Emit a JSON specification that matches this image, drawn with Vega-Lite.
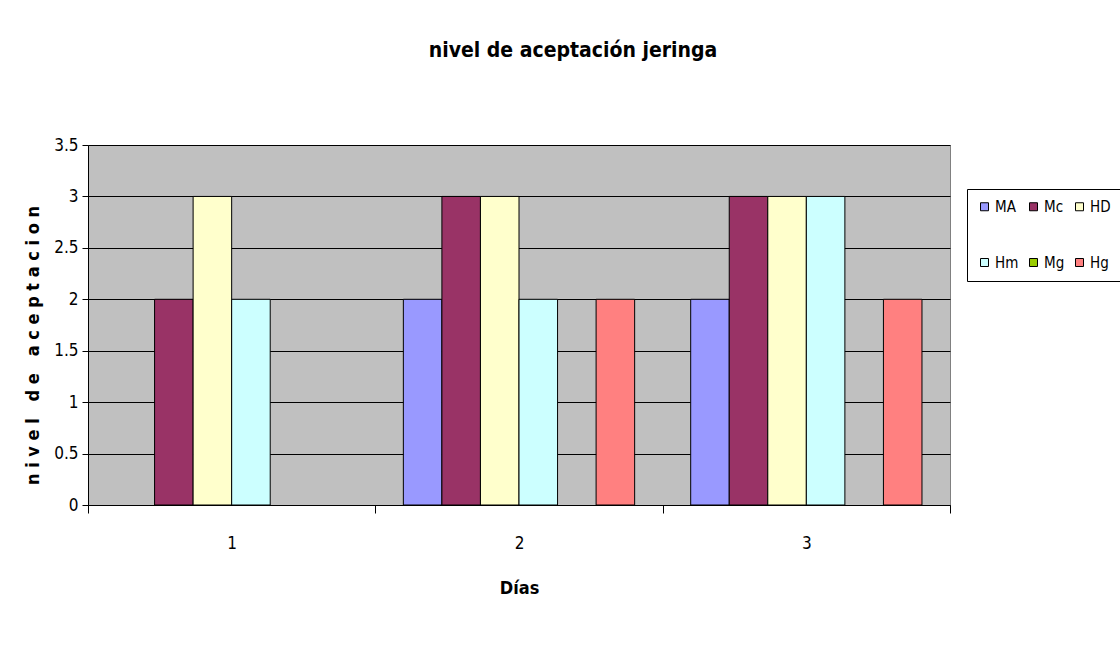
{
  "$schema": "https://vega.github.io/schema/vega-lite/v6.json",
  "autosize": "none",
  "width": 862,
  "height": 360,
  "padding": {"left": 88, "top": 145, "right": 170, "bottom": 143},
  "background": "white",
  "title": {
    "text": "nivel de aceptación jeringa",
    "font": "DejaVu Sans Condensed, Liberation Sans, sans-serif",
    "fontSize": 21,
    "fontWeight": "bold",
    "color": "black",
    "anchor": "middle",
    "dx": 54,
    "offset": 75
  },
  "data": {
    "values": [
      {"dia": "1", "serie": "Mc", "valor": 2},
      {"dia": "1", "serie": "HD", "valor": 3},
      {"dia": "1", "serie": "Hm", "valor": 2},
      {"dia": "2", "serie": "MA", "valor": 2},
      {"dia": "2", "serie": "Mc", "valor": 3},
      {"dia": "2", "serie": "HD", "valor": 3},
      {"dia": "2", "serie": "Hm", "valor": 2},
      {"dia": "2", "serie": "Hg", "valor": 2},
      {"dia": "3", "serie": "MA", "valor": 2},
      {"dia": "3", "serie": "Mc", "valor": 3},
      {"dia": "3", "serie": "HD", "valor": 3},
      {"dia": "3", "serie": "Hm", "valor": 3},
      {"dia": "3", "serie": "Hg", "valor": 2}
    ]
  },
  "mark": {"type": "bar", "stroke": "black", "strokeWidth": 1},
  "encoding": {
    "x": {
      "field": "dia",
      "type": "nominal",
      "scale": {"paddingInner": 0, "paddingOuter": 0},
      "axis": {
        "title": "Días",
        "labelAngle": 0,
        "tickBand": "extent",
        "tickSize": 8,
        "labelPadding": 22,
        "titlePadding": 28,
        "labelFont": "DejaVu Sans Condensed, Liberation Sans, sans-serif",
        "labelFontSize": 17,
        "labelColor": "black",
        "titleFont": "DejaVu Sans Condensed, Liberation Sans, sans-serif",
        "titleFontSize": 18,
        "titleFontWeight": "bold",
        "titleColor": "black",
        "domainColor": "black",
        "tickColor": "black"
      }
    },
    "xOffset": {
      "field": "serie",
      "type": "nominal",
      "scale": {"domain": ["MA", "Mc", "HD", "Hm", "Mg", "Hg"], "paddingInner": 0, "paddingOuter": 0.727}
    },
    "y": {
      "field": "valor",
      "type": "quantitative",
      "scale": {"domain": [0, 3.5], "nice": false},
      "axis": {
        "title": "n i v e l \u00a0 d e \u00a0 a c e p t a c i o n",
        "values": [0, 0.5, 1, 1.5, 2, 2.5, 3, 3.5],
        "format": "~g",
        "grid": true,
        "gridColor": "black",
        "gridOpacity": 1,
        "tickSize": 6,
        "labelPadding": 4,
        "labelFont": "DejaVu Sans Condensed, Liberation Sans, sans-serif",
        "labelFontSize": 17,
        "labelColor": "black",
        "titleFont": "DejaVu Sans Condensed, Liberation Sans, sans-serif",
        "titleFontSize": 18,
        "titleFontWeight": "bold",
        "titleColor": "black",
        "titleX": -46,
        "titleY": 200,
        "titleAlign": "center",
        "titleBaseline": "bottom",
        "domainColor": "black",
        "tickColor": "black"
      }
    },
    "color": {
      "field": "serie",
      "type": "nominal",
      "scale": {
        "domain": ["MA", "Mc", "HD", "Hm", "Mg", "Hg"],
        "range": ["#9999FF", "#993366", "#FFFFCC", "#CCFFFF", "#99CC00", "#FF8080"]
      },
      "legend": {
        "title": null,
        "orient": "none",
        "direction": "horizontal",
        "legendX": 879,
        "legendY": 44,
        "columns": 3,
        "symbolType": "square",
        "symbolSize": 64,
        "symbolStrokeColor": "black",
        "symbolStrokeWidth": 1,
        "symbolOpacity": 1,
        "labelFont": "DejaVu Sans Condensed, Liberation Sans, sans-serif",
        "labelFontSize": 15,
        "labelColor": "black",
        "labelOffset": 3,
        "columnPadding": 7,
        "rowPadding": 40,
        "padding": 10,
        "strokeColor": "black",
        "fillColor": "white"
      }
    }
  },
  "config": {
    "view": {"fill": "#C0C0C0", "stroke": "#808080"}
  }
}
